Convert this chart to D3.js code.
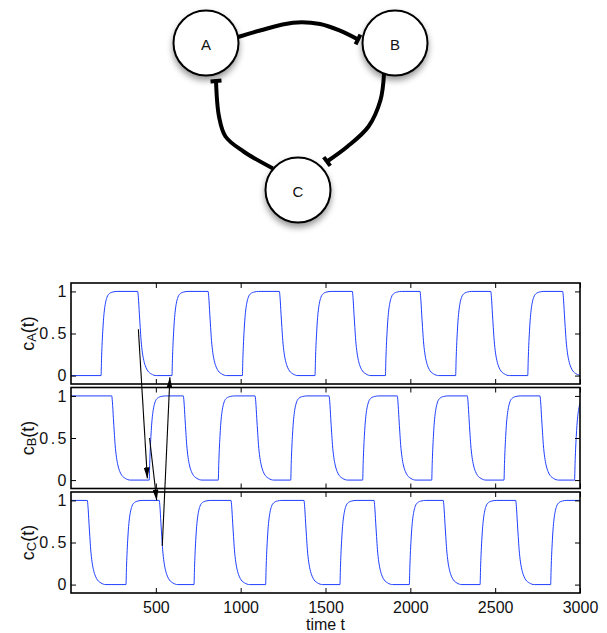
<!DOCTYPE html>
<html>
<head>
<meta charset="utf-8">
<script src="https://cdn.jsdelivr.net/npm/d3@7"></script>
<style>
  html, body { margin: 0; padding: 0; background: #fff; }
  svg { display: block; font-family: "Liberation Sans", Arial, Helvetica, sans-serif; }
</style>
</head>
<body>
<svg id="fig" width="607" height="633"></svg>
<script>
// ---- data -------------------------------------------------------------
// switching times of the three repressilator species (time units)
const riseA = [177, 595, 1010, 1438, 1853, 2267, 2692];
const fallA = [393, 808, 1228, 1658, 2057, 2474, 2898];
const riseB = [461, 868, 1295, 1719, 2126, 2552, 2968];
const fallB = [240, 662, 1085, 1521, 1923, 2336, 2764];
const riseC = [324, 725, 1147, 1585, 1994, 2411, 2827];
const fallC = [96, 520, 943, 1373, 1786, 2194, 2621];
const initial = { A: 0, B: 1, C: 1 };

// shape of a switching transition: [time after switch, concentration]
const riseProfile = [[0, 0], [3, 0.2], [6, 0.36], [10, 0.52], [14, 0.65], [20, 0.78],
                     [26, 0.86], [35, 0.93], [50, 0.975], [70, 0.993], [95, 1]];
const fallProfile = [[0, 1], [4, 0.93], [10, 0.73], [15, 0.57], [20, 0.42], [28, 0.27],
                     [36, 0.18], [48, 0.1], [60, 0.055], [80, 0.02], [110, 0]];

const xTicks = [500, 1000, 1500, 2000, 2500, 3000];
const yTicks = [0, 0.5, 1];
const species = ["A", "B", "C"];

// causal chain annotations: [species, time, level] -> [species, time, level]
const arrows = [
  { from: ["A", 397, 0.55], to: ["B", 450, 0.02] },
  { from: ["B", 463, 0.5],  to: ["C", 505, 1.0] },
  { from: ["C", 538, 0.46], to: ["A", 583, -0.02] }
];

// repression network
const nodes = [
  { id: "A", x: 206, y: 43 },
  { id: "B", x: 395, y: 43 },
  { id: "C", x: 298, y: 190 }
];
const edges = [
  { from: "A", to: "B", via: [[238, 37], [260, 30.5], [293, 22.7], [320, 24], [340, 30.7], [358, 39.5]] },
  { from: "B", to: "C", via: [[384, 74], [380.5, 100], [368.5, 126.5], [347.5, 146.5], [327, 161.5]] },
  { from: "C", to: "A", via: [[273, 168.5], [243.5, 151.5], [225.5, 136.5], [219, 116.5], [216, 81]] }
];

// ---- layout -----------------------------------------------------------
const svg = d3.select("#fig");
const font = 16;
const plotLeft = 71, plotRight = 580;
const panelTop = { A: 283, B: 387.5, C: 492 };
const panelH = 101;

const x = d3.scaleLinear().domain([0, 3000]).range([plotLeft, plotRight]);
const yScale = {};
species.forEach(s => {
  yScale[s] = d3.scaleLinear().domain([-0.1, 1.1]).range([panelTop[s] + panelH, panelTop[s]]);
});

const defs = svg.append("defs");

// ---- network diagram --------------------------------------------------
const shadow = defs.append("filter").attr("id", "nodeShadow")
  .attr("x", "-40%").attr("y", "-40%").attr("width", "180%").attr("height", "190%");
shadow.append("feDropShadow").attr("dx", 0).attr("dy", 4).attr("stdDeviation", 3)
  .attr("flood-color", "#000").attr("flood-opacity", 0.4);

const net = svg.append("g");
const edgeLine = d3.line().curve(d3.curveCatmullRom.alpha(0.5));
edges.forEach(e => {
  net.append("path").attr("d", edgeLine(e.via))
    .attr("fill", "none").attr("stroke", "#000").attr("stroke-width", 4);
  // blunt (repression) end
  const p = e.via[e.via.length - 1], q = e.via[e.via.length - 2];
  const dx = p[0] - q[0], dy = p[1] - q[1], len = Math.hypot(dx, dy);
  const nx = -dy / len, ny = dx / len, half = 5.5;
  net.append("line")
    .attr("x1", p[0] - nx * half).attr("y1", p[1] - ny * half)
    .attr("x2", p[0] + nx * half).attr("y2", p[1] + ny * half)
    .attr("stroke", "#000").attr("stroke-width", 4);
});
const nodeG = net.selectAll("g.node").data(nodes).join("g").attr("class", "node")
  .attr("transform", d => `translate(${d.x},${d.y})`);
nodeG.append("circle").attr("r", 32.5).attr("fill", "#fff")
  .attr("stroke", "#000").attr("stroke-width", 2).attr("filter", "url(#nodeShadow)");
nodeG.append("text").text(d => d.id).attr("text-anchor", "middle").attr("y", 7)
  .attr("font-size", 15).attr("fill", "#111");

// ---- time courses -----------------------------------------------------
function trace(s, rises, falls) {
  const events = rises.map(t => ({ t, prof: riseProfile }))
    .concat(falls.map(t => ({ t, prof: fallProfile })))
    .sort((a, b) => a.t - b.t);
  const pts = [[0, initial[s]]];
  events.forEach(e => e.prof.forEach(([dt, v]) => pts.push([e.t + dt, v])));
  const last = pts[pts.length - 1];
  if (last[0] < 3000) pts.push([3000, last[1]]);
  return pts;
}
const series = { A: trace("A", riseA, fallA), B: trace("B", riseB, fallB), C: trace("C", riseC, fallC) };

const tickLen = 5;
species.forEach((s, i) => {
  const y = yScale[s];
  const g = svg.append("g");
  const clipId = "clip" + s;
  defs.append("clipPath").attr("id", clipId).append("rect")
    .attr("x", plotLeft).attr("y", panelTop[s]).attr("width", plotRight - plotLeft).attr("height", panelH);

  g.append("path").datum(series[s])
    .attr("clip-path", `url(#${clipId})`)
    .attr("fill", "none").attr("stroke", "#1f3fff").attr("stroke-width", 1)
    .attr("d", d3.line().x(d => x(d[0])).y(d => y(d[1])).curve(d3.curveMonotoneX));

  // inward ticks on all four sides
  const isLast = i === species.length - 1;
  const bottom = g.append("g").attr("transform", `translate(0,${panelTop[s] + panelH})`)
    .call(d3.axisBottom(x).tickValues(xTicks).tickFormat(d3.format("d"))
      .tickSizeInner(-tickLen).tickSizeOuter(0).tickPadding(9));
  const top = g.append("g").attr("transform", `translate(0,${panelTop[s]})`)
    .call(d3.axisTop(x).tickValues(xTicks).tickSizeInner(-tickLen).tickSizeOuter(0));
  top.selectAll("text").remove();
  if (!isLast) bottom.selectAll("text").remove();
  const left = g.append("g").attr("transform", `translate(${plotLeft},0)`)
    .call(d3.axisLeft(y).tickValues(yTicks).tickFormat(d3.format(""))
      .tickSizeInner(-tickLen).tickSizeOuter(0).tickPadding(4.5));
  const right = g.append("g").attr("transform", `translate(${plotRight},0)`)
    .call(d3.axisRight(y).tickValues(yTicks).tickSizeInner(-tickLen).tickSizeOuter(0));
  right.selectAll("text").remove();
  [bottom, top, left, right].forEach(a => {
    a.select(".domain").remove();
    a.selectAll("line").attr("stroke", "#000").attr("stroke-width", 1);
    a.selectAll("text").attr("font-size", font).attr("fill", "#111")
      .attr("font-family", '"Liberation Sans", Arial, Helvetica, sans-serif');
  });
  left.selectAll("text").filter(d => d === 0.5)
    .attr("letter-spacing", "2.5px").attr("dx", "2.5px");

  g.append("rect").attr("x", plotLeft).attr("y", panelTop[s])
    .attr("width", plotRight - plotLeft).attr("height", panelH)
    .attr("fill", "none").attr("stroke", "#000").attr("stroke-width", 1.6);

  // axis label c_s(t)
  const lab = g.append("text")
    .attr("transform", `translate(34,${panelTop[s] + panelH / 2}) rotate(-90)`)
    .attr("text-anchor", "middle").attr("font-size", 18).attr("fill", "#111");
  lab.append("tspan").text("c");
  lab.append("tspan").text(s).attr("font-size", 13).attr("dy", 2);
  lab.append("tspan").text("(t)").attr("dy", -2);
});

svg.append("text").attr("x", (plotLeft + plotRight) / 2).attr("y", 630)
  .attr("text-anchor", "middle").attr("font-size", font).attr("fill", "#111").text("time t");

// ---- causal arrows ----------------------------------------------------
defs.append("marker").attr("id", "head").attr("viewBox", "0 0 11 6")
  .attr("refX", 11).attr("refY", 3).attr("markerWidth", 11).attr("markerHeight", 6)
  .attr("markerUnits", "userSpaceOnUse").attr("orient", "auto")
  .append("path").attr("d", "M0,0L11,3L0,6Z").attr("fill", "#000");
svg.append("g").selectAll("line").data(arrows).join("line")
  .attr("x1", d => x(d.from[1])).attr("y1", d => yScale[d.from[0]](d.from[2]))
  .attr("x2", d => x(d.to[1])).attr("y2", d => yScale[d.to[0]](d.to[2]))
  .attr("stroke", "#000").attr("stroke-width", 1.1).attr("marker-end", "url(#head)");
</script>
</body>
</html>
